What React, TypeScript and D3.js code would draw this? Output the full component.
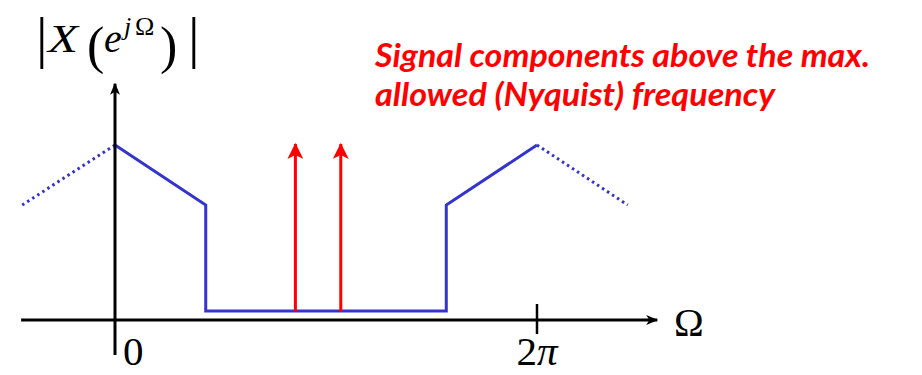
import React from "react";
import * as d3 from "d3";

// Frequency in units of π, magnitude normalized to peak = 1
const solidSpectrum: [number, number][] = [
  [0, 1], [0.43, 0.657], [0.43, 0.051], [1.57, 0.051], [1.57, 0.657], [2, 1],
];
const dottedLeft: [number, number][] = [[-0.44, 0.657], [0, 1]];
const dottedRight: [number, number][] = [[2, 1], [2.43, 0.657]];
const aliasFreqs = [0.855, 1.07];
const aliasHeights = [1.006, 1.006];
const aliasBase = 0.051;
const xTicks = [0, 2];
const xTickLabels = ["0", "2π"];
const noteLines = ["Signal components above the max.", "allowed (Nyquist) frequency"];

const W = 922, H = 375;
const x = d3.scaleLinear().domain([0, 2]).range([115, 537]);
const y = d3.scaleLinear().domain([0, 1]).range([320, 145]);

const line = d3.line<[number, number]>().x(d => x(d[0])).y(d => y(d[1]));

const BLUE = "#3434cc";
const RED = "#ff0000";

export default function App() {
  const axisX0 = x(-0.445), axisX1 = x(2.57);
  const axisY0 = y(-0.2), axisY1 = y(1.35);
  return (
    <svg width={W} height={H} viewBox={`0 0 ${W} ${H}`}
      style={{ position: "absolute", left: 0, top: 0, background: "#fff" }}>
      <defs>
        <marker id="blk" viewBox="0 0 12 10" refX="11" refY="5" markerWidth="12" markerHeight="10"
          markerUnits="userSpaceOnUse" orient="auto">
          <path d="M0,0 L12,5 L0,10 L3,5 Z" fill="#000" />
        </marker>
        <marker id="red" viewBox="0 0 16 16" refX="15" refY="8" markerWidth="16" markerHeight="16"
          markerUnits="userSpaceOnUse" orient="auto">
          <path d="M0,0 L16,8 L0,16 L4,8 Z" fill={RED} />
        </marker>
      </defs>

      {/* spectrum */}
      <path d={line(dottedLeft)!} fill="none" stroke={BLUE} strokeWidth={3} strokeDasharray="2.5 3.5" />
      <path d={line(dottedRight)!} fill="none" stroke={BLUE} strokeWidth={3} strokeDasharray="2.5 3.5" />
      <path d={line(solidSpectrum)!} fill="none" stroke={BLUE} strokeWidth={3} strokeLinejoin="miter" />

      {/* axes */}
      <line x1={axisX0} x2={axisX1} y1={y(0)} y2={y(0)} stroke="#000" strokeWidth={3} markerEnd="url(#blk)" />
      <line x1={x(0)} x2={x(0)} y1={axisY0} y2={axisY1} stroke="#000" strokeWidth={3} markerEnd="url(#blk)" />
      {xTicks.map((t, i) => (
        <g key={i}>
          {t !== 0 && <line x1={x(t)} x2={x(t)} y1={y(0) - 16} y2={y(0) + 14} stroke="#000" strokeWidth={2.5} />}
          <text x={t === 0 ? x(t) + 8 : x(t)} y={365} textAnchor={t === 0 ? "start" : "middle"}
            fontFamily="Liberation Serif, serif" fontSize={41}>
            {t === 0 ? xTickLabels[i] : (<><tspan>2</tspan><tspan fontStyle="italic">π</tspan></>)}
          </text>
        </g>
      ))}
      <text x={674} y={336} fontFamily="Liberation Serif, serif" fontSize={40}>Ω</text>

      {/* alias components */}
      {aliasFreqs.map((f, i) => (
        <line key={i} x1={x(f)} x2={x(f)} y1={y(aliasBase)} y2={y(aliasHeights[i])}
          stroke={RED} strokeWidth={3} markerEnd="url(#red)" />
      ))}

      {/* y label |X(e^{jΩ})| */}
      <g fontFamily="Liberation Serif, serif" fill="#000">
        <text x={36} y={57} fontSize={58}>|</text>
        <text x={48} y={52} fontSize={40} fontStyle="italic" textLength={30} lengthAdjust="spacingAndGlyphs">X</text>
        <text x={87} y={63} fontSize={52}>(</text>
        <text x={104} y={52} fontSize={40} fontStyle="italic">e</text>
        <text x={124} y={35} fontSize={26} fontStyle="italic">j</text>
        <text x={135} y={35} fontSize={26}>Ω</text>
        <text x={160} y={63} fontSize={52}>)</text>
        <text x={188} y={57} fontSize={58}>|</text>
      </g>

      {/* note */}
      <g fontFamily="Lato, 'Open Sans', sans-serif" fontWeight="bold" fontStyle="italic" fill={RED} fontSize={32}>
        <text x={375} y={67} textLength={495} lengthAdjust="spacingAndGlyphs">{noteLines[0]}</text>
        <text x={375} y={106} textLength={400} lengthAdjust="spacingAndGlyphs">{noteLines[1]}</text>
      </g>
    </svg>
  );
}
